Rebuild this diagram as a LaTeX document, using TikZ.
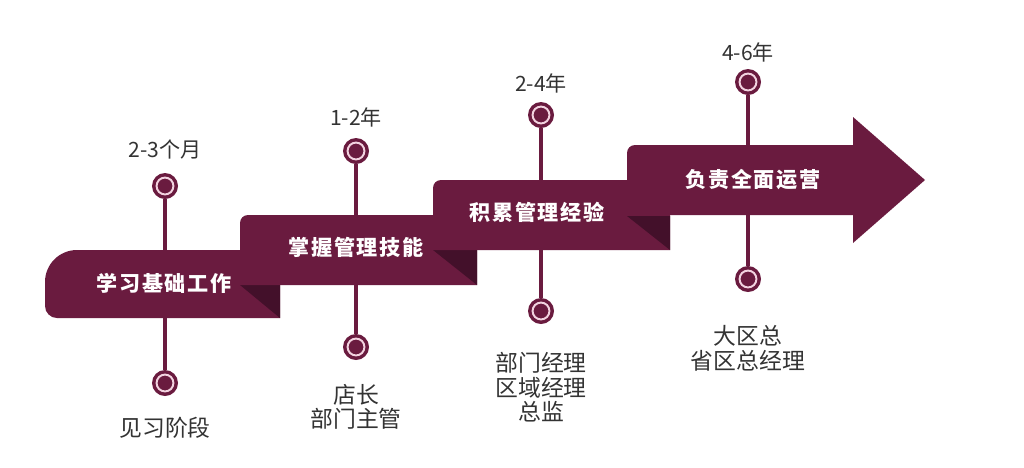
\documentclass[tikz,border=0pt]{standalone}
\usepackage{fontspec}
\setmainfont{Noto Sans CJK SC}
\usepackage{xcolor}
\usepackage{tikz}
\usetikzlibrary{positioning}
\definecolor{wine}{HTML}{6A1B3F}
\definecolor{winedark}{HTML}{43102A}
\definecolor{ringpink}{HTML}{F2D3E0}
\definecolor{labelgray}{HTML}{333333}

\begin{document}
\begin{tikzpicture}[
    x=0.02cm, y=-0.02cm,
    band/.style={fill=wine},
    fold/.style={fill=winedark},
    title/.style={text=white, inner sep=0pt, font=\fontsize{12pt}{14pt}\selectfont\bfseries\addfontfeatures{LetterSpace=8}},
    pin/.style={circle, fill=wine, draw=ringpink, line width=1.1pt, minimum size=9.6pt, inner sep=0pt, outer sep=2.5pt, preaction={draw=wine, line width=5.1pt}},
    stem/.style={draw=wine, line width=1.8pt},
    period/.style={text=labelgray, inner sep=0pt, font=\fontsize{12pt}{14pt}\selectfont},
    post/.style={text=labelgray, inner sep=0pt, align=center, font=\fontsize{13pt}{14pt}\selectfont}
]
    \useasboundingbox (0,0) rectangle (1024,467);

    % Pins
    \node[pin] (p1t) at (165,186) {};
    \node[pin] (p1b) at (165,383) {};
    \node[pin] (p2t) at (356,151) {};
    \node[pin] (p2b) at (356,347) {};
    \node[pin] (p3t) at (541,115) {};
    \node[pin] (p3b) at (541,311) {};
    \node[pin] (p4t) at (748,82) {};
    \node[pin] (p4b) at (748,279) {};

    % Stems
    \draw[stem] (p1t) -- (p1b);
    \draw[stem] (p2t) -- (p2b);
    \draw[stem] (p3t) -- (p3b);
    \draw[stem] (p4t) -- (p4b);

    % Bands
    \fill[band] (280,250) -- (77,250) arc[start angle=270, end angle=180, radius=32] -- (45,306) arc[start angle=180, end angle=90, radius=12] -- (280,318) -- cycle;
    \fill[fold] (240,285) -- (280,285) -- (280,318) -- cycle;
    \fill[band] (477,215) -- (248,215) arc[start angle=270, end angle=180, radius=8] -- (240,285) -- (477,285) -- cycle;
    \fill[fold] (433,250) -- (477,250) -- (477,285) -- cycle;
    \fill[band] (670,180) -- (441,180) arc[start angle=270, end angle=180, radius=8] -- (433,250) -- (670,250) -- cycle;
    \fill[fold] (627,216) -- (670,216) -- (670,250) -- cycle;
    \fill[band] (853,145) -- (853,117) -- (925,180) -- (853,243) -- (853,215) -- (627,215) -- (627,153) arc[start angle=180, end angle=270, radius=8] -- cycle;

    % Titles
    \node[title] (t1) at (164,283) {学习基础工作};
    \node[title] (t2) at (356,247) {掌握管理技能};
    \node[title] (t3) at (537,212) {积累管理经验};
    \node[title] (t4) at (753,180) {负责全面运营};

    % Labels
    \node[period, above=8pt of p1t] (l1t) {2-3个月};
    \node[period, above=6pt of p2t] (l2t) {1-2年};
    \node[period, above=5pt of p3t] (l3t) {2-4年};
    \node[period, above=4pt of p4t] (l4t) {4-6年};
    \node[post, below=12pt of p1b] (l1b) {见习阶段};
    \node[post, below=13.5pt of p2b] (l2b) {店长\\部门主管};
    \node[post, below=16pt of p3b] (l3b) {部门经理\\区域经理\\总监};
    \node[post, below=19pt of p4b] (l4b) {大区总\\省区总经理};
\end{tikzpicture}
\end{document}
